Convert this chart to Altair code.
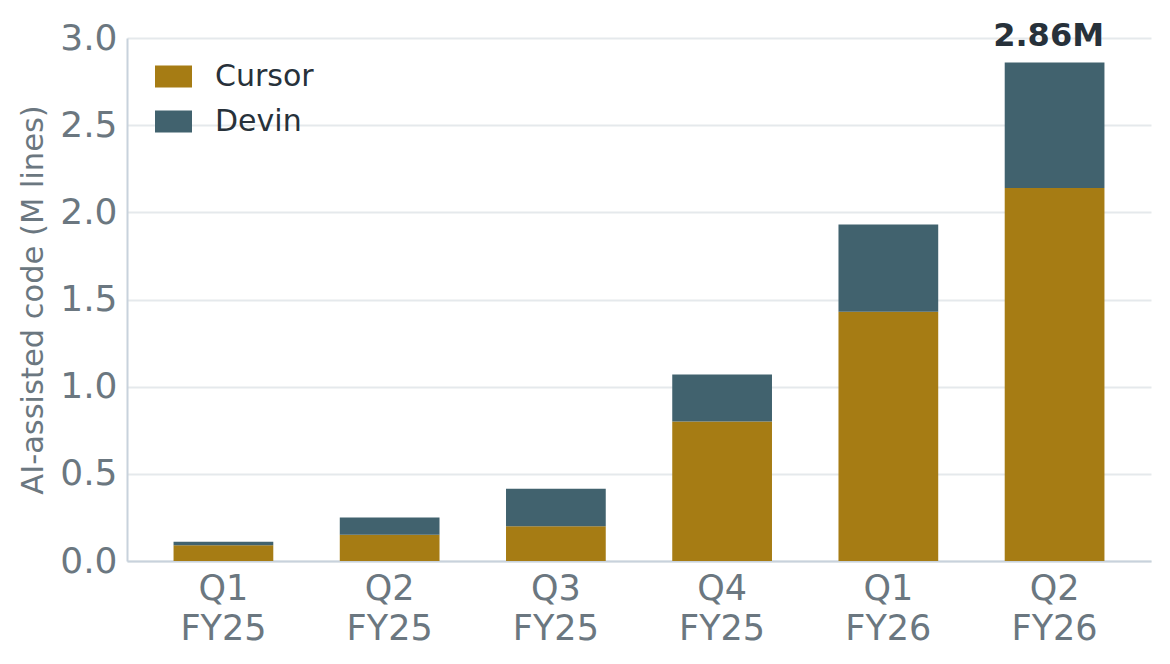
import altair as alt
import pandas as pd

quarters = ["Q1 FY25", "Q2 FY25", "Q3 FY25", "Q4 FY25", "Q1 FY26", "Q2 FY26"]
cursor = [0.09, 0.15, 0.20, 0.80, 1.43, 2.14]
devin = [0.02, 0.10, 0.215, 0.27, 0.50, 0.72]
series = ["Cursor", "Devin"]
colors = ["#a67c14", "#41626e"]

rows = []
for q, c, d in zip(quarters, cursor, devin):
    rows.append({"quarter": q, "tool": "Cursor", "value": c, "ord": 0})
    rows.append({"quarter": q, "tool": "Devin", "value": d, "ord": 1})
df = pd.DataFrame(rows)

totals = pd.DataFrame({"quarter": quarters, "total": [c + d for c, d in zip(cursor, devin)]})
last = totals.iloc[[-1]].copy()
last["label"] = last["total"].map(lambda v: f"{v:.2f}M")

FONT = "DejaVu Sans"

x_enc = alt.X(
    "quarter:N",
    sort=quarters,
    scale=alt.Scale(paddingInner=0.4, paddingOuter=0.28),
    axis=alt.Axis(
        title=None,
        labelExpr="split(datum.label, ' ')",
        labelFontSize=35,
        labelLineHeight=40,
        labelColor="#6b7780",
        labelFont=FONT,
        labelAngle=0,
        labelPadding=10,
        ticks=False,
        domainColor="#c8d2dc",
        domainWidth=2,
        grid=False,
    ),
)

bars = alt.Chart(df).mark_bar().encode(
    x=x_enc,
    y=alt.Y(
        "value:Q",
        stack="zero",
        scale=alt.Scale(domain=[0, 3], nice=False),
        axis=alt.Axis(
            title="AI-assisted code (M lines)",
            titleFontSize=30.5,
            titleFont=FONT,
            titleFontWeight="normal",
            titleColor="#6b7780",
            titlePadding=11,
            values=[0, 0.5, 1.0, 1.5, 2.0, 2.5, 3.0],
            format=".1f",
            labelFontSize=36,
            labelFont=FONT,
            labelColor="#6b7780",
            labelPadding=10,
            ticks=False,
            domainColor="#c8d2dc",
            domainWidth=2,
            gridColor="#e5e9ec",
            gridWidth=2,
        ),
    ),
    color=alt.Color(
        "tool:N",
        scale=alt.Scale(domain=series, range=colors),
        legend=alt.Legend(
            title=None,
            orient="none",
            legendX=28,
            legendY=20,
            symbolType="M-1,-0.6L1,-0.6L1,0.6L-1,0.6Z",
            symbolSize=1369,
            symbolStrokeWidth=0,
            labelFontSize=30,
            labelFont=FONT,
            labelColor="#27313a",
            labelOffset=23,
            rowPadding=11,
            padding=0,
        ),
    ),
    order=alt.Order("ord:Q", sort="ascending"),
)

label = alt.Chart(last).mark_text(
    font=FONT, fontSize=32, fontWeight="bold", color="#27313a",
    baseline="alphabetic", dy=-16, dx=-6
).encode(
    x=alt.X("quarter:N", sort=quarters),
    y=alt.Y("total:Q"),
    text="label:N",
)

chart = (
    alt.layer(bars, label)
    .properties(
        width=1024,
        height=523,
        autosize=alt.AutoSizeParams(type="none"),
        padding={"left": 119, "top": 30, "right": 10, "bottom": 90},
    )
    .configure_view(stroke=None)
)

chart.save("out.html", embed_options={"renderer": "svg", "actions": False})
